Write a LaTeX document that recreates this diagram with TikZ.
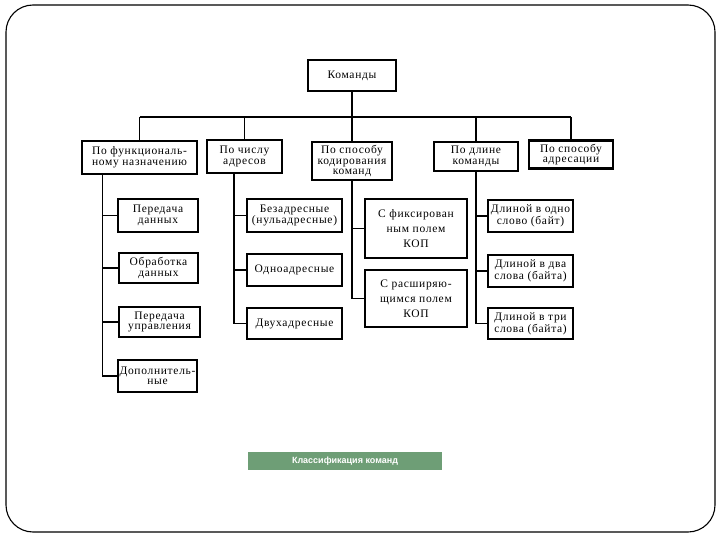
\documentclass[tikz,border=0pt]{standalone}
\usepackage{fontspec}
\setmainfont{Liberation Serif}[LetterSpace=6]
\newfontfamily\capfont{Liberation Sans}
\definecolor{capgreen}{RGB}{110,158,118}
\begin{document}
\begin{tikzpicture}[x=1pt,y=-1pt,
  box/.style={draw=black, line width=2.8pt, inner sep=0pt, align=center,
    font=\fontsize{11.5}{10.5}\selectfont},
  wide/.style={font=\fontsize{11.5}{15}\selectfont},
  conn/.style={draw=black, line width=1.1pt}]
\useasboundingbox (0,0) rectangle (720,540);
\draw[line width=1.1pt, rounded corners=27pt] (6,5) rectangle (715,532);

% top
\node[box, minimum width=88pt, minimum height=31pt] (kom) at (352,75.5) {Команды};
\coordinate (bus) at (352,117);

% level 2
\node[box, minimum width=115pt, minimum height=33pt] (b1) at (139.5,157.5) {По функциональ-\\ному назначению};
\node[box, minimum width=75pt, minimum height=33pt] (b2) at (244.5,156.5) {По числу\\адресов};
\node[box, minimum width=80pt, minimum height=38pt] (b3) at (352,161) {По способу\\кодирования\\команд};
\node[box, minimum width=84pt, minimum height=29pt] (b4) at (476,156.5) {По длине\\команды};
\node[box, line width=2.2pt, minimum width=84pt, minimum height=28pt] (b5) at (571,154.5) {По способу\\адресации};

\draw[conn] (kom.south) -- (bus);
\draw[conn] (b1.north |- bus) -- (b5.north |- bus);
\foreach \n in {b1,b2,b3,b4,b5} \draw[conn] (\n.north) -- (\n.north |- bus);

% column 1
\node[box, minimum width=80pt, minimum height=33pt] (p1) at (158,215.5) {Передача\\данных};
\node[box, minimum width=79pt, minimum height=30pt] (p2) at (158.5,268) {Обработка\\данных};
\node[box, minimum width=81pt, minimum height=30pt] (p3) at (159.5,322) {Передача\\управления};
\node[box, minimum width=79pt, minimum height=32pt] (p4) at (157.5,376) {Дополнитель-\\ные};
\coordinate (t1) at ([xshift=-37pt]b1.south);
\draw[conn] (t1) |- (p4.west);
\draw[line width=2pt] (p4.west -| t1) -- (p4.west);
\foreach \n in {p1,p2,p3} \draw[conn] (\n.west -| t1) -- (\n.west);

% column 2
\node[box, minimum width=95pt, minimum height=33pt] (a1) at (294.5,215.5) {Безадресные\\(нульадресные)};
\node[box, minimum width=95pt, minimum height=32pt] (a2) at (294.5,270) {Одноадресные};
\node[box, minimum width=95pt, minimum height=31pt] (a3) at (294.5,323.5) {Двухадресные};
\coordinate (t2) at ([xshift=-10.5pt]b2.south);
\draw[conn] (t2) |- (a3.west);
\foreach \n in {a1,a2} \draw[conn] (\n.west -| t2) -- (\n.west);

% column 3
\node[box, wide, minimum width=102pt, minimum height=59pt] (k1) at (416,228.5) {С фиксирован\\ным полем\\КОП};
\node[box, wide, minimum width=102pt, minimum height=57pt] (k2) at (416,298.5) {С расширяю-\\щимся полем\\КОП};
\draw[conn] (b3.south) |- (k2.west);
\draw[conn] (k1.west -| b3.south) -- (k1.west);

% column 4
\node[box, minimum width=85pt, minimum height=32pt] (d1) at (530.5,216) {Длиной в одно\\слово (байт)};
\node[box, minimum width=85pt, minimum height=32pt] (d2) at (530.5,271) {Длиной в два\\слова (байта)};
\node[box, minimum width=85pt, minimum height=31pt] (d3) at (530.5,323.5) {Длиной в три\\слова (байта)};
\draw[conn] (b4.south) |- (d3.west);
\foreach \n in {d1,d2} \draw[conn] (\n.west -| b4.south) -- (\n.west);

% caption
\node[fill=capgreen, minimum width=194pt, minimum height=18pt, inner sep=0pt,
  text=white, font=\capfont\bfseries\fontsize{9}{9}\selectfont] (cap) at (345,461) {Классификация команд};
\end{tikzpicture}
\end{document}
